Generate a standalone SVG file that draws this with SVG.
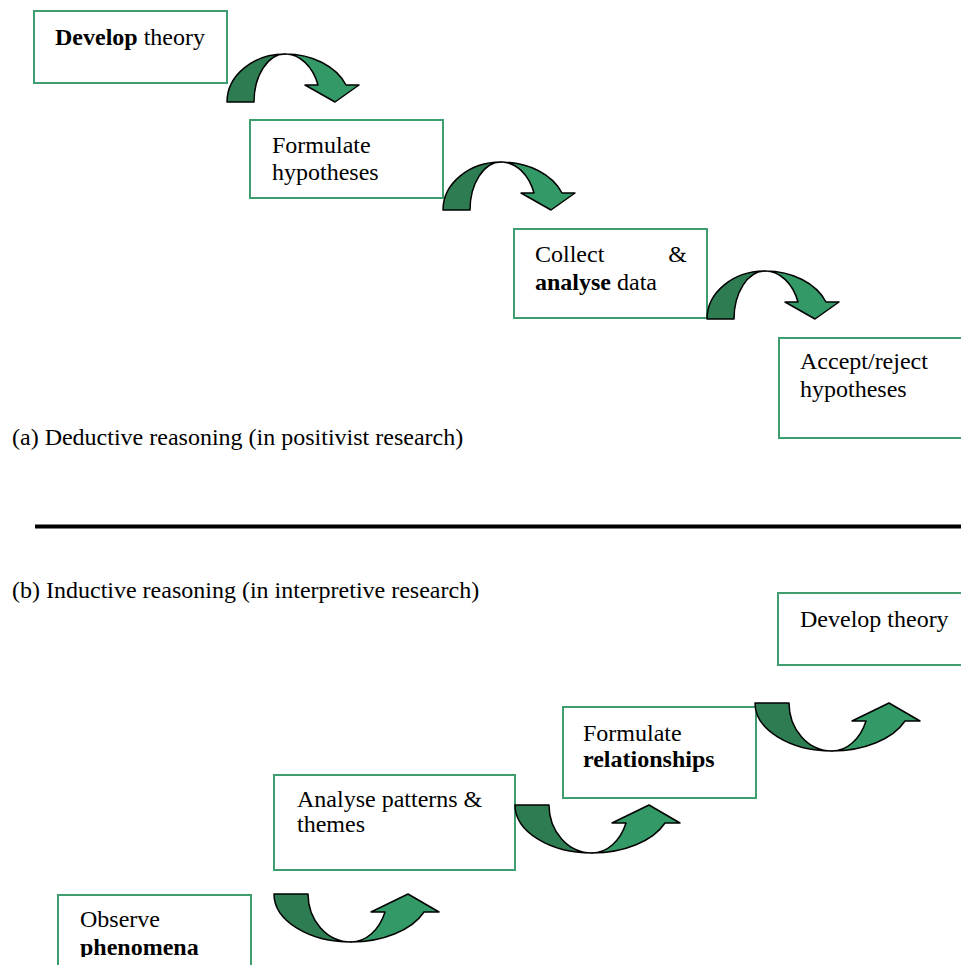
<svg xmlns="http://www.w3.org/2000/svg" width="961" height="965" viewBox="0 0 961 965">
  <style>
    .box { fill: #ffffff; stroke: #3f9e6f; stroke-width: 2; }
    .txt { font-family: "Liberation Serif", "Times New Roman", serif; font-size: 24px; fill: #000000; }
    .b { font-weight: bold; }
    .back { fill: #2e7d52; stroke: #000000; stroke-width: 1.5; stroke-linejoin: round; }
    .front { fill: #339966; stroke: #000000; stroke-width: 1.5; stroke-linejoin: round; }
  </style>
  <defs>
    <!-- arrow that bends over the top and points down-right -->
    <g id="curvedDown">
      <path class="back" d="M0,0 A58,48 0 0 1 58,-48 A31,48 0 0 0 27,0 Z"/>
      <path class="front" d="M58,-48 A65,48 0 0 1 119,-17 L132,-17 L108,0 L78,-17 L91,-17 A35,48 0 0 0 58,-48 Z"/>
    </g>
    <!-- arrow that dips under and points up-right -->
    <g id="curvedUp">
      <path class="back" d="M0,0 A77,48 0 0 0 77,48 A43,48 0 0 1 34,0 Z"/>
      <path class="front" d="M77,48 A79,48 0 0 0 150,18 L165,18 L134,0 L97,18 L111,18 A37,48 0 0 1 77,48 Z"/>
    </g>
    <clipPath id="clipObserve">
      <rect x="0" y="0" width="961" height="957"/>
    </clipPath>
  </defs>

  <!-- (a) deductive chain -->
  <g id="node-develop-theory-a">
    <rect class="box" x="34" y="11" width="193" height="72"/>
    <text class="txt" x="55" y="45"><tspan class="b">Develop</tspan> theory</text>
  </g>
  <g id="node-formulate-hypotheses">
    <rect class="box" x="250" y="120" width="193" height="78"/>
    <text class="txt" x="272" y="153">Formulate</text>
    <text class="txt" x="272" y="180">hypotheses</text>
  </g>
  <g id="node-collect-analyse">
    <rect class="box" x="514" y="229" width="193" height="89"/>
    <text class="txt" x="535" y="262">Collect</text>
    <text class="txt" x="687" y="262" text-anchor="end">&amp;</text>
    <text class="txt" x="535" y="290"><tspan class="b">analyse</tspan> data</text>
  </g>
  <g id="node-accept-reject">
    <rect class="box" x="779" y="338" width="200" height="100"/>
    <text class="txt" x="800" y="369">Accept/reject</text>
    <text class="txt" x="800" y="397">hypotheses</text>
  </g>

  <text class="txt" x="12" y="445">(a) Deductive reasoning (in positivist research)</text>
  <line x1="35" y1="526.5" x2="961" y2="526.5" stroke="#000000" stroke-width="4"/>
  <text class="txt" x="12" y="598">(b) Inductive reasoning (in interpretive research)</text>

  <!-- (b) inductive chain -->
  <g id="node-develop-theory-b">
    <rect class="box" x="778" y="593" width="200" height="72"/>
    <text class="txt" x="800" y="627">Develop theory</text>
  </g>
  <g id="node-formulate-relationships">
    <rect class="box" x="563" y="707" width="193" height="91"/>
    <text class="txt" x="583" y="741">Formulate</text>
    <text class="txt b" x="583" y="767">relationships</text>
  </g>
  <g id="node-analyse-patterns">
    <rect class="box" x="274" y="775" width="241" height="95"/>
    <text class="txt" x="297" y="807">Analyse patterns &amp;</text>
    <text class="txt" x="297" y="832">themes</text>
  </g>
  <g id="node-observe-phenomena">
    <rect class="box" x="58" y="895" width="193" height="100"/>
    <g clip-path="url(#clipObserve)">
      <text class="txt" x="80" y="927">Observe</text>
      <text class="txt b" x="80" y="955">phenomena</text>
    </g>
  </g>

  <!-- connectors -->
  <g id="connectors">
    <use href="#curvedDown" transform="translate(227,102)"/>
    <use href="#curvedDown" transform="translate(443,210)"/>
    <use href="#curvedDown" transform="translate(707,319)"/>
    <use href="#curvedUp" transform="translate(274,894)"/>
    <use href="#curvedUp" transform="translate(515,805)"/>
    <use href="#curvedUp" transform="translate(755,703)"/>
  </g>
</svg>
